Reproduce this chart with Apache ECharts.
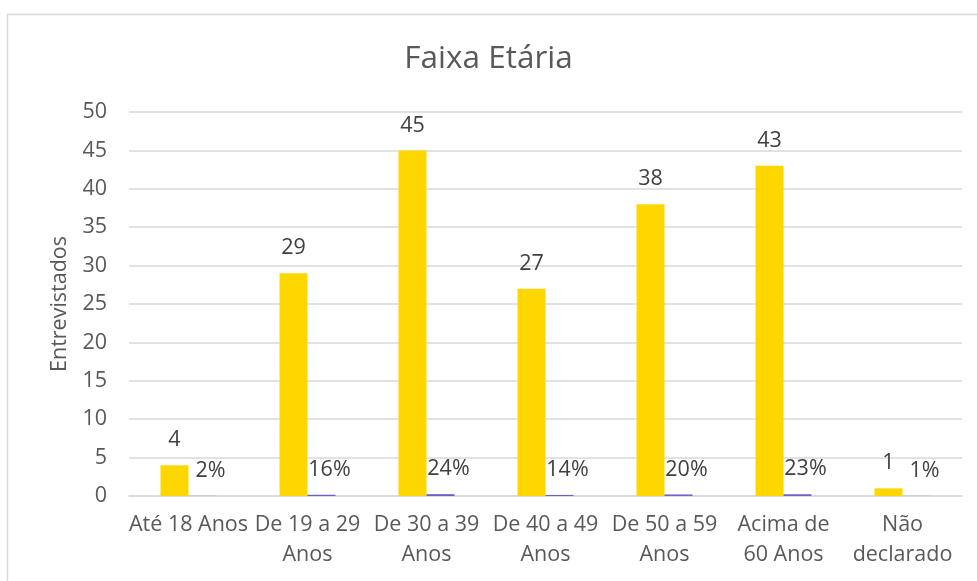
<!DOCTYPE html>
<html>
<head>
<meta charset="utf-8">
<script src="https://cdn.jsdelivr.net/npm/echarts@6/dist/echarts.min.js"></script>
<style>html,body{margin:0;padding:0;background:#fff;}#c{width:977px;height:581px;}</style>
</head>
<body>
<div id="c"></div>
<script>
const categories = ["Até 18 Anos", "De 19 a 29\nAnos", "De 30 a 39\nAnos", "De 40 a 49\nAnos", "De 50 a 59\nAnos", "Acima de\n60 Anos", "Não\ndeclarado"];
const counts = [4, 29, 45, 27, 38, 43, 1];
const shares = [0.02, 0.16, 0.24, 0.14, 0.20, 0.23, 0.01];
const yTicks = [0, 5, 10, 15, 20, 25, 30, 35, 40, 45, 50];

const FONT = 'Open Sans';
const FS = 21.5;
const chart = echarts.init(document.getElementById('c'));
chart.setOption({
  animation: false,
  textStyle: { fontFamily: FONT },
  graphic: [{
    type: 'rect', left: 5, top: 12, shape: { width: 1100, height: 700 },
    style: { fill: 'none', stroke: '#d9d9d9', lineWidth: 1.5 }, silent: true
  }],
  title: {
    text: 'Faixa Etária', left: 'center', top: 38,
    textStyle: { fontFamily: FONT, fontSize: 31.5, fontWeight: 'normal', color: '#595959' }
  },
  grid: { left: 129, right: 15, top: 112, bottom: 85 },
  xAxis: {
    type: 'category', data: categories,
    axisLine: { lineStyle: { color: '#d9d9d9', width: 1.5 } },
    axisTick: { show: false },
    axisLabel: { color: '#595959', fontSize: FS, fontFamily: FONT, lineHeight: 30, margin: 14, interval: 0 }
  },
  yAxis: {
    type: 'value', min: yTicks[0], max: yTicks[yTicks.length - 1], interval: 5,
    name: 'Entrevistados', nameLocation: 'middle', nameGap: 58,
    nameTextStyle: { color: '#595959', fontSize: FS, fontFamily: FONT },
    axisLine: { show: false }, axisTick: { show: false },
    axisLabel: { color: '#595959', fontSize: FS, fontFamily: FONT, margin: 22 },
    splitLine: { lineStyle: { color: '#d9d9d9', width: 1.5 } }
  },
  series: [{
    type: 'bar', data: counts, barWidth: 28, barGap: '0%', barCategoryGap: '53%',
    itemStyle: { color: '#FFD700' },
    label: { show: true, position: 'top', distance: 14, color: '#404040', fontSize: FS, fontFamily: FONT }
  }, {
    type: 'bar', data: shares, barWidth: 28,
    itemStyle: { color: '#6A62C8' },
    label: { show: true, position: 'top', distance: 14, offset: [8, 0], color: '#404040', fontSize: FS, fontFamily: FONT,
      formatter: p => Math.round(p.value * 100) + '%' }
  }]
});
</script>
</body>
</html>
